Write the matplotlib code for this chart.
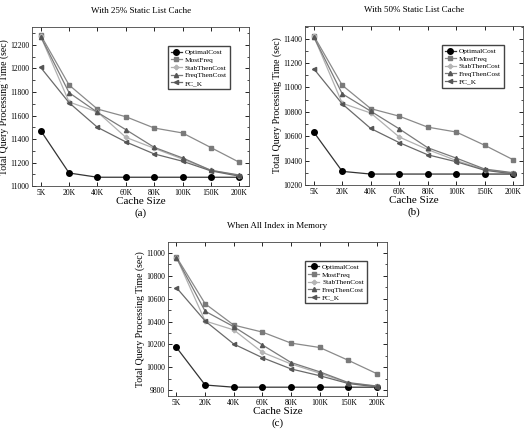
import matplotlib
matplotlib.use("Agg")
import matplotlib.pyplot as plt
from matplotlib.ticker import AutoMinorLocator, MultipleLocator

plt.rcParams["font.family"] = ["Liberation Serif", "DejaVu Serif"]

cache_sizes = ["5K", "20K", "40K", "60K", "80K", "100K", "150K", "200K"]
series_names = ["OptimalCost", "MostFreq", "StabThenCost", "FreqThenCost", "FC_K"]

# (a) with 25% static list cache
a_optimal = [11472, 11112, 11076, 11076, 11076, 11076, 11076, 11076]
a_mostfreq = [12283, 11859, 11655, 11590, 11494, 11452, 11328, 11203]
a_stab = [12272, 11715, 11630, 11415, 11322, 11230, 11135, 11090]
a_freq = [12270, 11794, 11627, 11480, 11330, 11240, 11135, 11095]
a_fck = [12008, 11709, 11500, 11376, 11274, 11212, 11130, 11085]

# (b) with 50% static list cache
b_optimal = [10634, 10311, 10289, 10289, 10289, 10289, 10289, 10289]
b_mostfreq = [11425, 11018, 10826, 10764, 10674, 10634, 10525, 10406]
b_stab = [11420, 10870, 10790, 10593, 10490, 10400, 10325, 10295]
b_freq = [11415, 10948, 10805, 10660, 10505, 10420, 10330, 10300]
b_fck = [11154, 10865, 10663, 10547, 10447, 10390, 10320, 10290]

# (c) all index in memory
c_optimal = [10174, 9847, 9828, 9828, 9828, 9828, 9828, 9828]
c_mostfreq = [10962, 10555, 10369, 10308, 10212, 10174, 10062, 9945]
c_stab = [10958, 10405, 10327, 10132, 10030, 9950, 9865, 9835]
c_freq = [10955, 10490, 10355, 10196, 10043, 9962, 9868, 9838]
c_fck = [10695, 10405, 10204, 10085, 9987, 9928, 9860, 9830]

styles = [
    dict(color="#333333", marker="o", mfc="black", mec="black", ms=4),
    dict(color="#8a8a8a", marker="s", mfc="#7a7a7a", mec="#7a7a7a", ms=3),
    dict(color="#b0b0b0", marker="P", mfc="#b5b5b5", mec="#b5b5b5", ms=3),
    dict(color="#7a7a7a", marker="^", mfc="#555555", mec="#555555", ms=3),
    dict(color="#6a6a6a", marker="<", mfc="#555555", mec="#555555", ms=3),
]

panels = [
    ("With 25% Static List Cache", "(a)", [a_optimal, a_mostfreq, a_stab, a_freq, a_fck],
     (11000, 12350), [0.061, 0.569, 0.411, 0.368], -0.17),
    ("With 50% Static List Cache", "(b)", [b_optimal, b_mostfreq, b_stab, b_freq, b_fck],
     (10200, 11505), [0.578, 0.572, 0.413, 0.368], -0.17),
    ("When All Index in Memory", "(c)", [c_optimal, c_mostfreq, c_stab, c_freq, c_fck],
     (9750, 11090), [0.318, 0.083, 0.415, 0.356], -0.175),
]

fig = plt.figure(figsize=(5.28, 4.32), dpi=100)

for title, caption, data, ylim, rect, cap_y in panels:
    ax = fig.add_axes(rect)
    x = range(len(cache_sizes))
    for name, ys, st in zip(series_names, data, styles):
        ax.plot(x, ys, lw=0.9, label=name, **st)
    ax.set_xlim(-0.3, 7.35)
    ax.set_ylim(*ylim)
    ax.set_xticks(list(x))
    ax.set_xticklabels(cache_sizes)
    ax.yaxis.set_major_locator(MultipleLocator(200))
    ax.yaxis.set_minor_locator(AutoMinorLocator(2))
    ax.tick_params(direction="in", top=True, right=True, labelsize=5.5,
                   length=3, width=0.6, pad=2)
    ax.tick_params(which="minor", direction="in", right=True, length=1.8, width=0.5)
    for s in ax.spines.values():
        s.set_linewidth(0.6)
        s.set_color("#444444")
    ax.set_xlabel("Cache Size", fontsize=8, labelpad=0)
    ax.set_ylabel("Total Query Processing Time (sec)", fontsize=7, labelpad=1)
    ax.set_title(title, fontsize=6.5, pad=10)
    ax.legend(loc="upper right", bbox_to_anchor=(0.91, 0.88), fontsize=5.3,
              frameon=True, fancybox=False, edgecolor="#444444", framealpha=1,
              handlelength=1.5, handletextpad=0.4, borderpad=0.4,
              labelspacing=0.2, borderaxespad=0)
    ax.text(0.5, cap_y, caption, transform=ax.transAxes, ha="center",
            va="center", fontsize=8)

fig.savefig("out.png", dpi=100)
